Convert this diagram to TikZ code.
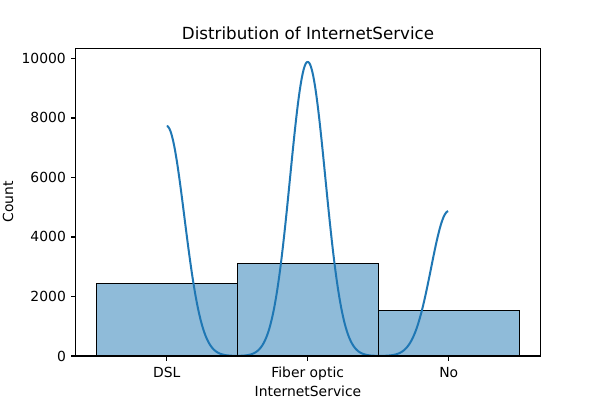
\documentclass[tikz,border=0pt]{standalone}
\usepackage{fontspec}
\setmainfont{DejaVu Sans}
\definecolor{mplblue}{HTML}{1F77B4}
\definecolor{barfill}{HTML}{8FBBD9}
\begin{document}
\begin{tikzpicture}[x=1pt,y=1pt,
  bar/.style={draw=black,fill=barfill,line width=1pt},
  kde/.style={draw=mplblue,line width=2pt,line join=round},
  spine/.style={draw=black,line width=1.1pt},
  tickmark/.style={draw=black,line width=1.1pt},
  ticklab/.style={inner sep=0pt,font=\fontsize{13.9}{16}\selectfont},
  axlab/.style={inner sep=0pt,font=\fontsize{13.9}{16}\selectfont},
  titlelab/.style={inner sep=0pt,font=\fontsize{16.7}{20}\selectfont}]
\useasboundingbox (0,0) rectangle (600,400);
\fill[white] (0,0) rectangle (600,400);
% data scope
\begin{scope}[shift={(166.7,44)},x=141pt,y=0.02975pt]
  \draw[bar] (-0.5,0) rectangle (0.5,2421);
  \draw[bar] (0.5,0) rectangle (1.5,3096);
  \draw[bar] (1.5,0) rectangle (2.5,1526);
  \draw[kde] plot[domain=0:2,samples=301]
    (\x,{3.1915*(2421*exp(max(-(\x)^2/0.03125,-40))+3096*exp(max(-(\x-1)^2/0.03125,-40))+1526*exp(max(-(\x-2)^2/0.03125,-40)))});
  \coordinate (ll) at (-0.645,0);
  \coordinate (ur) at (2.65,10343);
  % x ticks
  \foreach \c/\lab/\nm in {0/DSL/xa,1/Fiber optic/xb,2/No/xc}{
    \coordinate (xt\nm) at (\c,0);
    \draw[tickmark] (xt\nm) -- ++(0,-4.9pt);
    \node[ticklab,anchor=base] (\nm) at ([yshift=-21pt]xt\nm) {\lab};
  }
  % y ticks
  \foreach \v/\nm in {0/ya,2000/yb,4000/yc,6000/yd,8000/ye,10000/yf}{
    \coordinate (yt\nm) at (-0.645,\v);
    \draw[tickmark] (yt\nm) -- ++(-4.9pt,0);
    \node[ticklab,anchor=base east] (\nm) at ([xshift=-9.7pt,yshift=-5pt]yt\nm) {\v};
  }
\end{scope}
\draw[spine] (ll) rectangle (ur);
\node[titlelab,anchor=base] (title) at (308,360) {Distribution of InternetService};
\node[axlab,anchor=base] (xlabel) at (308,3.5) {InternetService};
\node[axlab,anchor=base,rotate=90] (ylabel) at (13,198) {Count};
\end{tikzpicture}
\end{document}
